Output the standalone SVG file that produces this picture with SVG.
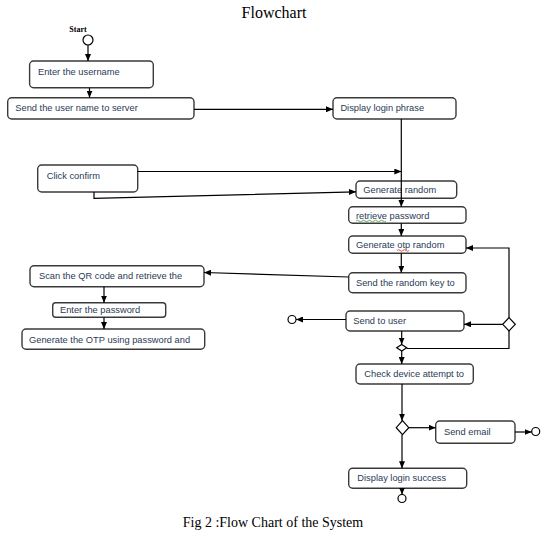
<svg xmlns="http://www.w3.org/2000/svg" width="547" height="536" viewBox="0 0 547 536">
<defs>
<style>
.box{fill:#fff;stroke:#3a3a3a;stroke-width:1.4}
.t{font-family:"Liberation Sans",Arial,sans-serif;font-size:9.3px;fill:#2b3a55}
.c{fill:none;stroke:#000;stroke-width:1.2}
.end{fill:#fff;stroke:#000;stroke-width:1.2}
.dia{fill:#fff;stroke:#000;stroke-width:1.2}
.serif{font-family:"Liberation Serif","Times New Roman",serif;fill:#000}
</style>
<marker id="arr" markerUnits="userSpaceOnUse" markerWidth="7" markerHeight="6" refX="7" refY="3" orient="auto">
<path d="M0,0 L7,3 L0,6 z" fill="#000"/>
</marker>
</defs>
<rect width="547" height="536" fill="#fff"/>
<text class="serif" x="274" y="18" font-size="16" text-anchor="middle">Flowchart</text>
<text class="serif" x="78" y="32" font-size="8" font-weight="bold" text-anchor="middle">Start</text>

<g id="start"><circle class="end" cx="88" cy="40" r="5"/></g>
<g id="n-enter-username"><rect class="box" x="29.6" y="61" width="123.7" height="26.7" rx="4"/><text class="t" x="38" y="75">Enter the username</text></g>
<g id="n-send-username"><rect class="box" x="7.7" y="97.7" width="186.3" height="21.3" rx="4"/><text class="t" x="15.3" y="111">Send the user name to server</text></g>
<g id="n-display-phrase"><rect class="box" x="333" y="97.7" width="123" height="21.3" rx="4"/><text class="t" x="340.4" y="111">Display login phrase</text></g>
<g id="n-click-confirm"><rect class="box" x="37.7" y="165" width="100" height="27" rx="4"/><text class="t" x="46.7" y="179">Click confirm</text></g>
<g id="n-generate-random"><rect class="box" x="356" y="181" width="100.7" height="17.3" rx="4"/><text class="t" x="363.3" y="193.3">Generate random</text></g>
<g id="n-retrieve-password"><rect class="box" x="348.7" y="206.7" width="117.3" height="16.6" rx="4"/><text class="t" x="356" y="218.5">retrieve password</text><path d="M356,221 q1.5,-1.5 3,0 t3,0 t3,0 t3,0 t3,0 t3,0 t3,0 t3,0 t3,0 t3,0" fill="none" stroke="#3a9a3a" stroke-width="0.8"/></g>
<g id="n-generate-otp"><rect class="box" x="348.7" y="236" width="117.3" height="17.3" rx="4"/><text class="t" x="356" y="248">Generate otp random</text><path d="M397,250.5 q1.5,-1.5 3,0 t3,0 t3,0 t3,0" fill="none" stroke="#e03030" stroke-width="0.8"/></g>
<g id="n-send-random-key"><rect class="box" x="348.7" y="272.7" width="117.3" height="20" rx="4"/><text class="t" x="356" y="285.7">Send the random key to</text></g>
<g id="n-scan-qr"><rect class="box" x="30" y="265.7" width="174" height="21" rx="4"/><text class="t" x="39" y="278.7">Scan the QR code and retrieve the</text></g>
<g id="n-enter-password"><rect class="box" x="52.7" y="302.7" width="113" height="14.6" rx="3"/><text class="t" x="60" y="312.5">Enter the password</text></g>
<g id="n-generate-otp-pw"><rect class="box" x="22" y="329" width="182.7" height="20.3" rx="4"/><text class="t" x="29" y="342.5">Generate the OTP using password and</text></g>
<g id="n-send-to-user"><rect class="box" x="346" y="311" width="118" height="20" rx="4"/><text class="t" x="353.3" y="324">Send to user</text></g>
<g id="end-left"><circle class="end" cx="292" cy="319.5" r="4"/></g>
<g id="d-right"><polygon class="dia" points="509,317.7 515.3,324.3 509,330.9 502.7,324.3"/></g>
<g id="d-merge"><polygon class="dia" points="401.7,344.5 406.7,347.7 401.7,351 396.7,347.7"/></g>
<g id="n-check-device"><rect class="box" x="356" y="364" width="117.3" height="20" rx="4"/><text class="t" x="364.3" y="377">Check device attempt to</text></g>
<g id="d-check"><polygon class="dia" points="402.5,420.7 408.8,427.7 402.5,434.7 396.2,427.7"/></g>
<g id="n-send-email"><rect class="box" x="435.7" y="421" width="79.3" height="22.3" rx="4"/><text class="t" x="444" y="435">Send email</text></g>
<g id="end-email"><circle class="end" cx="535.7" cy="431.5" r="4"/></g>
<g id="n-display-success"><rect class="box" x="348.7" y="468.3" width="118" height="20" rx="4"/><text class="t" x="357.3" y="481.3">Display login success</text></g>
<g id="end-final"><circle class="end" cx="402" cy="498.5" r="4"/></g>

<g id="connectors">
<path class="c" d="M88,45 V61" marker-end="url(#arr)"/>
<path class="c" d="M89.5,87.7 V97.7" marker-end="url(#arr)"/>
<path class="c" d="M194,109.3 H333" marker-end="url(#arr)"/>
<path class="c" d="M401.3,119 V206.7" marker-end="url(#arr)"/>
<path class="c" d="M137.7,171.5 H401.3" marker-end="url(#arr)"/>
<path class="c" d="M94,192 V198.3 L356,191.8" marker-end="url(#arr)"/>
<path class="c" d="M401.3,223.3 V236" marker-end="url(#arr)"/>
<path class="c" d="M401.3,253.3 V272.7" marker-end="url(#arr)"/>
<path class="c" d="M348.7,277 L204,272.5" marker-end="url(#arr)"/>
<path class="c" d="M104,286.7 V302.7" marker-end="url(#arr)"/>
<path class="c" d="M104,317.3 V329" marker-end="url(#arr)"/>
<path class="c" d="M346,319.5 H296" marker-end="url(#arr)"/>
<path class="c" d="M509,317.7 V248 H466" marker-end="url(#arr)"/>
<path class="c" d="M502.7,324.3 H464" marker-end="url(#arr)"/>
<path class="c" d="M509,330.9 V348.5 H406.7"/>
<path class="c" d="M401.7,331 V344.5" marker-end="url(#arr)"/>
<path class="c" d="M401.7,351 V364" marker-end="url(#arr)"/>
<path class="c" d="M402,384 V420.7" marker-end="url(#arr)"/>
<path class="c" d="M408.8,427.7 H435.7" marker-end="url(#arr)"/>
<path class="c" d="M402,434.7 V468.3" marker-end="url(#arr)"/>
<path class="c" d="M515,432 H531.7" marker-end="url(#arr)"/>
<path class="c" d="M402,488.3 V494.5" marker-end="url(#arr)"/>
</g>

<text class="serif" x="273" y="527" font-size="14" text-anchor="middle">Fig 2 :Flow Chart of the System</text>
</svg>
